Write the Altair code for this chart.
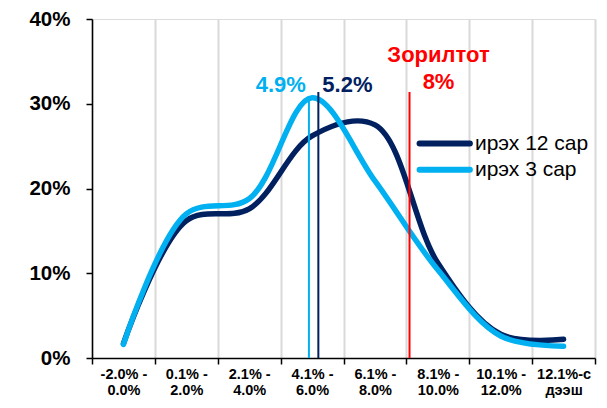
import altair as alt
import pandas as pd

categories = ["-2.0% -\n0.0%", "0.1% -\n2.0%", "2.1% -\n4.0%", "4.1% -\n6.0%",
              "6.1% -\n8.0%", "8.1% -\n10.0%", "10.1% -\n12.0%", "12.1%-с\nдээш"]
series_names = ["ирэх 12 сар", "ирэх 3 сар"]
values_12 = [0.017, 0.162, 0.176, 0.262, 0.275, 0.112, 0.028, 0.022]
values_3 = [0.016, 0.170, 0.188, 0.307, 0.209, 0.104, 0.026, 0.014]
colors = ["#002060", "#00B0F0"]

marker_values = [4.9, 5.2, 8.1]
marker_tops = [0.307, 0.314, 0.314]
marker_colors = ["#00B0F0", "#002060", "#FF0000"]

label_texts = ["4.9%", "5.2%", "Зорилтот", "8%"]
label_x = [4.9, 5.2, 8.1, 8.1]
label_y = [0.3137, 0.3137, 0.3487, 0.3172]
label_colors = ["#00B0F0", "#002060", "#FF0000", "#FF0000"]
label_align = ["right", "left", "center", "center"]

# legend placement (in chart data units)
legend_x = [8.42, 10.02]
legend_label_x = 10.18
legend_y = [0.253, 0.222]

rows = []
for c, v in zip(categories, values_12):
    rows.append({"cat": c, "val": v, "series": series_names[0]})
for c, v in zip(categories, values_3):
    rows.append({"cat": c, "val": v, "series": series_names[1]})
df = pd.DataFrame(rows)

rules_df = pd.DataFrame({"x": marker_values, "top": marker_tops, "color": marker_colors})
texts_df = pd.DataFrame({"x": label_x, "y": label_y, "text": label_texts,
                         "color": label_colors, "align": label_align})
leg_df = pd.DataFrame({"x": [legend_x[0]] * 2, "x2": [legend_x[1]] * 2,
                       "lx": [legend_label_x] * 2, "y": legend_y,
                       "series": series_names, "color": colors})

FONT = "Liberation Sans"
xq = alt.Scale(domain=[-2, 14], nice=False, zero=False)
yscale = alt.Scale(domain=[0, 0.4], nice=False)

lines = alt.Chart(df).mark_line(interpolate="catmull-rom", strokeWidth=5.5, strokeCap="round").encode(
    x=alt.X("cat:N", sort=categories, title=None,
            scale=alt.Scale(paddingInner=0, paddingOuter=0),
            axis=alt.Axis(labelAngle=0, labelExpr="split(datum.label, '\\n')",
                          labelFont=FONT, labelFontSize=14.5, labelFontWeight="bold",
                          labelColor="black", labelLineHeight=16.5, labelPadding=3,
                          tickBand="extent", ticks=True, tickSize=6, tickColor="black",
                          tickWidth=1.5, domainColor="black", domainWidth=1.5,
                          grid=True, gridColor="#D9D9D9", gridWidth=2)),
    y=alt.Y("val:Q", scale=yscale, title=None,
            axis=alt.Axis(values=[0, 0.1, 0.2, 0.3, 0.4], format=".0%", grid=False,
                          labelFont=FONT, labelFontSize=20.5, labelFontWeight="bold",
                          labelColor="black", tickSize=6, tickColor="black", tickWidth=1.5,
                          labelPadding=16, domainColor="black", domainWidth=1.5)),
    color=alt.Color("series:N", scale=alt.Scale(domain=series_names, range=colors), legend=None),
)

rules = alt.Chart(rules_df).mark_rule(strokeWidth=2).encode(
    x=alt.X("x:Q", scale=xq, axis=None),
    y=alt.Y("top:Q", scale=yscale, title=None),
    y2=alt.datum(0),
    color=alt.Color("color:N", scale=None),
)

base_text = alt.Chart(texts_df).encode(
    x=alt.X("x:Q", scale=xq, axis=None),
    y=alt.Y("y:Q", scale=yscale, title=None),
    text="text:N",
    color=alt.Color("color:N", scale=None),
)
tstyle = dict(font=FONT, fontSize=22, fontWeight="bold", baseline="alphabetic")
t_right = base_text.transform_filter("datum.align == 'right'").mark_text(align="right", dx=-3, **tstyle)
t_left = base_text.transform_filter("datum.align == 'left'").mark_text(align="left", dx=4, **tstyle)
t_center = base_text.transform_filter("datum.align == 'center'").mark_text(align="center", dx=29, **tstyle)

leg_lines = alt.Chart(leg_df).mark_rule(strokeWidth=6, strokeCap="round").encode(
    x=alt.X("x:Q", scale=xq, axis=None),
    x2="x2:Q",
    y=alt.Y("y:Q", scale=yscale, title=None),
    color=alt.Color("color:N", scale=None),
)
leg_text = alt.Chart(leg_df).mark_text(font=FONT, fontSize=21, align="left",
                                       baseline="middle", color="black").encode(
    x=alt.X("lx:Q", scale=xq, axis=None),
    y=alt.Y("y:Q", scale=yscale, title=None),
    text="series:N",
)

overlay = alt.layer(rules, t_right, t_left, t_center, leg_lines, leg_text)

chart = alt.layer(lines, overlay).resolve_scale(x="independent", color="independent").properties(
    width=503, height=339,
    autosize=alt.AutoSizeParams(type="none"),
    padding={"left": 84, "top": 11, "right": 2, "bottom": 41},
).configure_view(stroke=None).configure(background="white")

chart.save("out.html", embed_options={"renderer": "svg", "actions": False})
